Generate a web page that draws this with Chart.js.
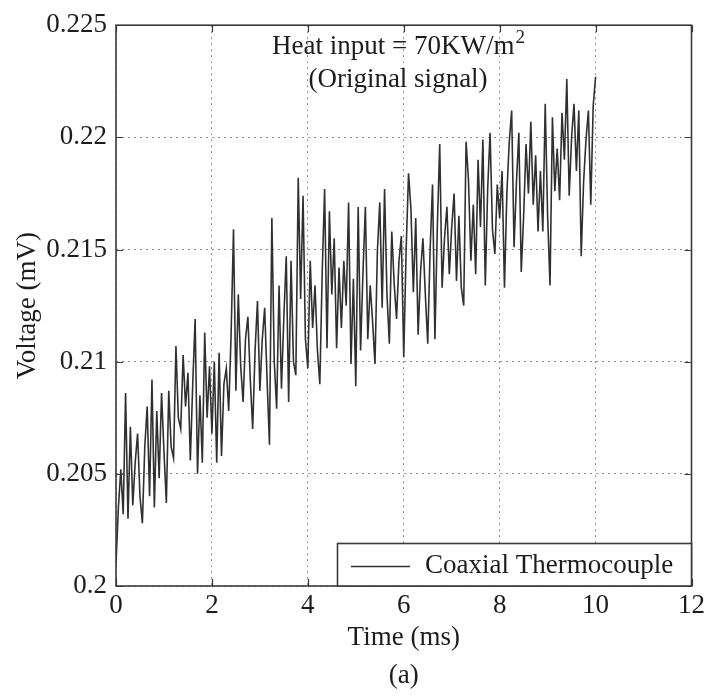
<!DOCTYPE html>
<html>
<head>
<meta charset="utf-8">
<title>Coaxial Thermocouple - Original signal</title>
<script src="https://cdn.jsdelivr.net/npm/chart.js@4.4.0/dist/chart.umd.min.js"></script>
<style>
    html, body { margin: 0; padding: 0; background: #fff; }
    #wrap { width: 709px; height: 698px; }
</style>
</head>
<body>
<div id="wrap"><canvas id="signalChart" width="709" height="698"></canvas></div>
<script>
const sampleStepMs = 0.05;
const voltageMv = [
    0.2010, 0.2035, 0.2052, 0.2032, 0.2086, 0.2030, 0.2071, 0.2036, 0.2055, 0.2068,
    0.2040, 0.2028, 0.2062, 0.2080, 0.2040, 0.2092, 0.2035, 0.2078, 0.2048, 0.2086,
    0.2060, 0.2037, 0.2087, 0.2062, 0.2057, 0.2107, 0.2075, 0.2070, 0.2103, 0.2080,
    0.2095, 0.2056, 0.2090, 0.2119, 0.2050, 0.2085, 0.2055, 0.2113, 0.2075, 0.2098,
    0.2068, 0.2100, 0.2055, 0.2104, 0.2058, 0.2090, 0.2097, 0.2078, 0.2112, 0.2159,
    0.2087, 0.2130, 0.2098, 0.2082, 0.2110, 0.2120, 0.2092, 0.2070, 0.2105, 0.2127,
    0.2087, 0.2110, 0.2124, 0.2092, 0.2063, 0.2164, 0.2100, 0.2079, 0.2134, 0.2088,
    0.2120, 0.2147, 0.2082, 0.2145, 0.2100, 0.2094, 0.2182, 0.2128, 0.2174, 0.2110,
    0.2097, 0.2145, 0.2115, 0.2134, 0.2105, 0.2090, 0.2140, 0.2177, 0.2106, 0.2167,
    0.2130, 0.2155, 0.2106, 0.2142, 0.2115, 0.2145, 0.2125, 0.2171, 0.2099, 0.2137,
    0.2089, 0.2169, 0.2105, 0.2140, 0.2169, 0.2110, 0.2134, 0.2118, 0.2099, 0.2149,
    0.2171, 0.2124, 0.2177, 0.2130, 0.2108, 0.2158, 0.2135, 0.2119, 0.2145, 0.2156,
    0.2102, 0.2150, 0.2184, 0.2168, 0.2131, 0.2164, 0.2112, 0.2140, 0.2155, 0.2130,
    0.2108, 0.2150, 0.2179, 0.2110, 0.2160, 0.2197, 0.2133, 0.2155, 0.2169, 0.2139,
    0.2160, 0.2175, 0.2136, 0.2165, 0.2133, 0.2125, 0.2198, 0.2181, 0.2145, 0.2170,
    0.2139, 0.2190, 0.2160, 0.2199, 0.2134, 0.2177, 0.2202, 0.2159, 0.2148, 0.2179,
    0.2164, 0.2185, 0.2133, 0.2175, 0.2198, 0.2212, 0.2151, 0.2180, 0.2202, 0.2140,
    0.2165, 0.2197, 0.2175, 0.2207, 0.2170, 0.2192, 0.2158, 0.2185, 0.2158, 0.2215,
    0.2165, 0.2134, 0.2209, 0.2176, 0.2195, 0.2172, 0.2211, 0.2190, 0.2226, 0.2174,
    0.2200, 0.2215, 0.2185, 0.2212, 0.2147, 0.2180, 0.2199, 0.2212, 0.2170, 0.2214,
    0.2227
];

const timeTicks = [0, 2, 4, 6, 8, 10, 12];
const timeTickLabels = ['0', '2', '4', '6', '8', '10', '12'];
const voltageTicks = [0.2, 0.205, 0.21, 0.215, 0.22, 0.225];
const voltageTickLabels = ['0.2', '0.205', '0.21', '0.215', '0.22', '0.225'];

const seriesLabel = 'Coaxial Thermocouple';
const FONT = '"Liberation Serif", "Times New Roman", serif';
const TEXT_COLOR = '#1c1c1c';
const FRAME_COLOR = '#3a3a3a';

// Build points for the library
const signalPoints = voltageMv.map((v, i) => ({ x: i * sampleStepMs, y: v }));

/**
 * Draws the MATLAB-like box, inward ticks, annotation and legend
 */
const figureDecorPlugin = {
    id: 'figureDecor',
    afterDatasetsDraw(chart) {
        const { ctx, chartArea: area, scales } = chart;
        const xs = scales.x;
        const ys = scales.y;
        const tickLen = 7;

        ctx.save();

        // Frame around the axes
        ctx.strokeStyle = FRAME_COLOR;
        ctx.lineWidth = 1.6;
        ctx.strokeRect(area.left, area.top, area.right - area.left, area.bottom - area.top);

        // Inward tick marks on all four sides
        ctx.lineWidth = 1.2;
        ctx.beginPath();
        timeTicks.forEach(v => {
            const px = Math.round(xs.getPixelForValue(v)) + 0.5;
            ctx.moveTo(px, area.bottom);
            ctx.lineTo(px, area.bottom - tickLen);
            ctx.moveTo(px, area.top);
            ctx.lineTo(px, area.top + tickLen);
        });
        voltageTicks.forEach(v => {
            const py = Math.round(ys.getPixelForValue(v)) + 0.5;
            ctx.moveTo(area.left, py);
            ctx.lineTo(area.left + tickLen, py);
            ctx.moveTo(area.right, py);
            ctx.lineTo(area.right - tickLen, py);
        });
        ctx.stroke();

        // Annotation text with superscript
        ctx.fillStyle = TEXT_COLOR;
        ctx.textBaseline = 'alphabetic';
        ctx.textAlign = 'left';
        const mainText = 'Heat input = 70KW/m';
        const supText = '2';
        ctx.font = `27px ${FONT}`;
        const mainW = ctx.measureText(mainText).width;
        ctx.font = `19px ${FONT}`;
        const supW = ctx.measureText(supText).width;
        const centerX = 398;
        const startX = centerX - (mainW + supW) / 2;
        ctx.font = `27px ${FONT}`;
        ctx.fillText(mainText, startX, 54);
        ctx.font = `19px ${FONT}`;
        ctx.fillText(supText, startX + mainW + 1, 43);
        ctx.font = `27px ${FONT}`;
        ctx.textAlign = 'center';
        ctx.fillText('(Original signal)', centerX, 87);

        // Legend box in the lower right corner
        const ds = chart.data.datasets[0];
        const box = { left: 337, top: 543, right: area.right, bottom: area.bottom };
        ctx.fillStyle = '#ffffff';
        ctx.fillRect(box.left, box.top, box.right - box.left, box.bottom - box.top);
        ctx.strokeStyle = FRAME_COLOR;
        ctx.lineWidth = 1.6;
        ctx.strokeRect(box.left + 0.5, box.top + 0.5, box.right - box.left - 0.5, box.bottom - box.top - 0.5);
        ctx.strokeStyle = ds.borderColor;
        ctx.lineWidth = 1.3;
        ctx.beginPath();
        ctx.moveTo(351, 566.5);
        ctx.lineTo(410, 566.5);
        ctx.stroke();
        ctx.fillStyle = TEXT_COLOR;
        ctx.textAlign = 'left';
        ctx.textBaseline = 'middle';
        ctx.font = `27px ${FONT}`;
        ctx.fillText(ds.label, 425, 566);

        ctx.restore();
    }
};

const ctx = document.getElementById('signalChart').getContext('2d');

const signalChart = new Chart(ctx, {
    type: 'scatter',
    data: {
        datasets: [{
            label: seriesLabel,
            data: signalPoints,
            showLine: true,
            borderColor: '#303030',
            borderWidth: 1.6,
            pointRadius: 0,
            tension: 0
        }]
    },
    options: {
        responsive: false,
        animation: false,
        devicePixelRatio: 1,
        layout: { padding: { top: 22, right: 14, left: 0, bottom: 0 } },
        plugins: {
            legend: { display: false },
            tooltip: { enabled: false }
        },
        scales: {
            x: {
                type: 'linear',
                min: 0,
                max: 12,
                afterBuildTicks: scale => {
                    scale.ticks = timeTicks.map(v => ({ value: v }));
                },
                afterFit: scale => { scale.height = 112; },
                ticks: {
                    padding: 4,
                    maxRotation: 0,
                    color: TEXT_COLOR,
                    font: { family: FONT, size: 27 },
                    callback: (value) => timeTickLabels[timeTicks.indexOf(value)] ?? ''
                },
                grid: {
                    color: '#8c8c8c',
                    lineWidth: 1,
                    drawTicks: false
                },
                border: { display: false, dash: [2, 4] },
                title: {
                    display: true,
                    text: ['Time (ms)', '(a)'],
                    color: TEXT_COLOR,
                    font: { family: FONT, size: 27, lineHeight: 1.4 },
                    padding: { top: 0, bottom: 3 }
                }
            },
            y: {
                type: 'linear',
                min: 0.2,
                max: 0.225,
                afterBuildTicks: scale => {
                    scale.ticks = voltageTicks.map(v => ({ value: v }));
                },
                afterFit: scale => { scale.width = 116; },
                ticks: {
                    padding: 9,
                    color: TEXT_COLOR,
                    font: { family: FONT, size: 27 },
                    callback: (value) => {
                        const idx = voltageTicks.findIndex(t => Math.abs(t - value) < 1e-9);
                        return idx >= 0 ? voltageTickLabels[idx] : '';
                    }
                },
                grid: {
                    color: '#8c8c8c',
                    lineWidth: 1,
                    drawTicks: false
                },
                border: { display: false, dash: [2, 4] },
                title: {
                    display: true,
                    text: 'Voltage (mV)',
                    color: TEXT_COLOR,
                    font: { family: FONT, size: 27 },
                    padding: { top: 12, bottom: 0 }
                }
            }
        }
    },
    plugins: [figureDecorPlugin]
});
</script>
</body>
</html>
